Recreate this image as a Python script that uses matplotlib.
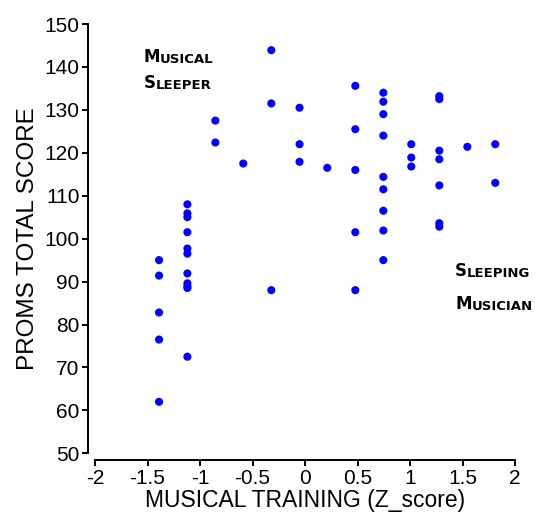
import matplotlib
matplotlib.use("Agg")
import matplotlib.pyplot as plt

# Data
training_z = ([-1.39] * 5 + [-1.12] * 11 + [-0.854] * 2 + [-0.588] + [-0.321] * 3 +
              [-0.052] * 3 + [0.212] + [0.479] * 5 + [0.746] * 9 + [1.012] * 3 +
              [1.279] * 7 + [1.546] + [1.812] * 2)
proms_total = ([95.0, 91.4, 82.8, 76.5, 62.0] +
               [108.0, 105.9, 105.0, 101.5, 97.7, 96.5, 91.9, 89.6, 88.5, 88.9, 72.5] +
               [127.5, 122.4] +
               [117.5] +
               [143.9, 131.5, 88.0] +
               [130.5, 122.0, 117.9] +
               [116.5] +
               [135.6, 125.5, 116.0, 101.5, 88.0] +
               [134.0, 131.9, 129.0, 124.0, 114.4, 111.5, 106.5, 101.9, 95.0] +
               [122.0, 118.9, 116.8] +
               [133.2, 132.5, 120.5, 118.5, 112.4, 103.6, 102.8] +
               [121.4] +
               [122.0, 113.0])

x_ticks = [-2, -1.5, -1, -0.5, 0, 0.5, 1, 1.5, 2]
x_ticklabels = ["-2", "-1.5", "-1", "-0.5", "0", "0.5", "1", "1.5", "2"]
y_ticks = list(range(50, 151, 10))

annotations = [("MUSICAL", -1.54, 140.2), ("SLEEPER", -1.54, 134.2),
               ("SLEEPING", 1.43, 90.3), ("MUSICIAN", 1.43, 82.6)]

plt.rcParams['font.family'] = ['Liberation Sans', 'DejaVu Sans']

fig = plt.figure(figsize=(5.35, 5.18), dpi=100)
ax = fig.add_axes([95 / 535, 1 - 453.3 / 518, 420 / 535, 429.3 / 518])

ax.scatter(training_z, proms_total, s=34, color='#0000ff', edgecolors='none', zorder=3)

ax.set_xlim(-2, 2)
ax.set_ylim(50, 150)
ax.set_xticks(x_ticks)
ax.set_xticklabels(x_ticklabels)
ax.set_yticks(y_ticks)

for side in ['top', 'right']:
    ax.spines[side].set_visible(False)
for side in ['left', 'bottom']:
    ax.spines[side].set_position(('outward', 5))
    ax.spines[side].set_linewidth(1.4)
ax.tick_params(axis='both', direction='out', length=4, width=1.4, labelsize=15,
               colors='black', pad=2)

ax.set_xlabel("MUSICAL TRAINING (Z_score)", fontsize=16.5, labelpad=1)
ax.set_ylabel("PROMS TOTAL SCORE", fontsize=17.5, labelpad=4)

for word, xv, yv in annotations:
    t = ax.text(xv, yv, word[0], fontsize=12, fontweight='bold',
                family='DejaVu Sans', ha='left', va='bottom')
    ax.annotate(word[1:], xy=(1, 0), xycoords=t, fontsize=9.5, fontweight='bold',
                family='DejaVu Sans', ha='left', va='bottom')

fig.savefig("out.png", dpi=100)
